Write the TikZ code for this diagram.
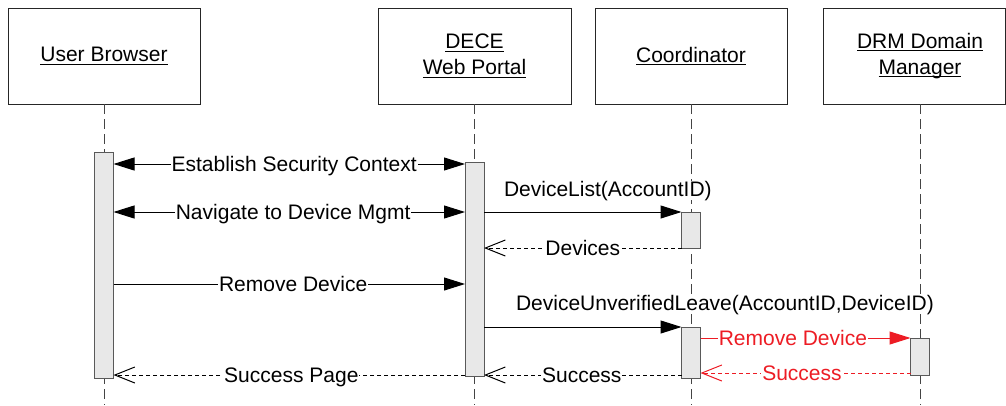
\documentclass[tikz,border=0pt]{standalone}
\usepackage{fontspec}
\setmainfont{Liberation Sans}
\usetikzlibrary{arrows.meta}
\definecolor{actfill}{HTML}{E8E8E8}
\definecolor{msgred}{HTML}{ED1C24}
\definecolor{lifegray}{HTML}{444444}
\newcommand\uline[1]{\setbox0=\hbox{#1}\leavevmode\copy0\llap{\rule[-3pt]{\wd0}{1.1pt}}}
\begin{document}
\begin{tikzpicture}[x=1pt,y=-1pt,
  font=\fontsize{21}{26}\selectfont,
  objbox/.style={draw=black!85,line width=1pt,fill=white,minimum height=96pt,inner sep=0pt,outer sep=0pt,align=center},
  act/.style={draw=black!65,fill=actfill,line width=1pt,minimum width=19pt,inner sep=0pt,outer sep=0pt},
  lifeline/.style={draw=lifegray,line width=1pt,dash pattern=on 10pt off 5pt},
  msg/.style={line width=1pt,-{Triangle[length=21pt,width=13pt]}},
  dmsg/.style={line width=1pt,{Triangle[length=21pt,width=13pt]}-{Triangle[length=21pt,width=13pt]}},
  ret/.style={line width=1pt,dash pattern=on 4pt off 3pt,-{Straight Barb[length=20pt,width=16pt]}},
  lbl/.style={fill=white,inner xsep=1pt,inner ysep=0pt,anchor=base,yshift=-7pt},
  tlbl/.style={fill=white,inner xsep=1pt,inner ysep=0pt,anchor=base west},
]
\useasboundingbox (0,0) rectangle (1006,405);
\clip (0,0) rectangle (1006,405);

% objects
\node[objbox,minimum width=192pt] (ub) at (104,56) {\uline{User Browser}};
\node[objbox,minimum width=193pt] (dece) at (474.5,56) {\uline{DECE}\\\uline{Web Portal}};
\node[objbox,minimum width=192pt] (coord) at (691,56) {\uline{Coordinator}};
\node[objbox,minimum width=182pt] (drm) at (914,56) {};
\node[align=center,inner sep=0pt] (drmt) at (920,56) {\uline{DRM Domain}\\\uline{Manager}};

% lifelines
\coordinate (bot) at (0,405);
\draw[lifeline] (ub.south) -- (ub.south |- bot);
\draw[lifeline] (dece.south) -- (dece.south |- bot);
\draw[lifeline] (coord.south) -- (coord.south |- bot);
\draw[lifeline] (drmt |- drm.south) -- (drmt |- bot);

% activations
\node[act,minimum height=226pt] (ubA) at (104,265) {};
\node[act,minimum height=214pt] (deA) at (474.5,269) {};
\node[act,minimum height=36pt] (coA1) at (691,230) {};
\node[act,minimum height=51pt] (coA2) at (691,352.5) {};
\node[act,minimum height=37pt] (drA) at (920,356.5) {};

% message rows
\coordinate (y1) at (0,164);
\coordinate (y2) at (0,212);
\coordinate (y3) at (0,248);
\coordinate (y4) at (0,284);
\coordinate (y5) at (0,327);
\coordinate (y6) at (0,338);
\coordinate (y7) at (0,373);
\coordinate (y8) at (0,375);

\draw[dmsg] (ubA.east |- y1) -- node[lbl,pos=.514]{Establish Security Context} (deA.west |- y1);
\draw[dmsg] (ubA.east |- y2) -- node[lbl,pos=.511]{Navigate to Device Mgmt} (deA.west |- y2);
\draw[msg] (deA.east |- y2) -- node[tlbl,pos=0,xshift=18.5pt,yshift=16pt]{DeviceList(AccountID)} (coA1.west |- y2);
\draw[ret] (coA1.west |- y3) -- node[lbl,pos=.5]{Devices} (deA.east |- y3);
\draw[msg] (ubA.east |- y4) -- node[lbl,pos=.511]{Remove Device} (deA.west |- y4);
\draw[msg] (deA.east |- y5) -- node[tlbl,pos=0,xshift=30.5pt,yshift=17pt]{DeviceUnverifiedLeave(AccountID,DeviceID)} (coA2.west |- y5);
\draw[msg,msgred] (coA2.east |- y6) -- node[lbl,pos=.44]{Remove Device} (drA.west |- y6);
\draw[ret,msgred] (drA.west |- y7) -- node[lbl,pos=.517]{Success} (coA2.east |- y7);
\draw[ret] (coA2.west |- y8) -- node[lbl,pos=.505]{Success} (deA.east |- y8);
\draw[ret] (deA.west |- y8) -- node[lbl,pos=.494]{Success Page} (ubA.east |- y8);
\end{tikzpicture}
\end{document}
